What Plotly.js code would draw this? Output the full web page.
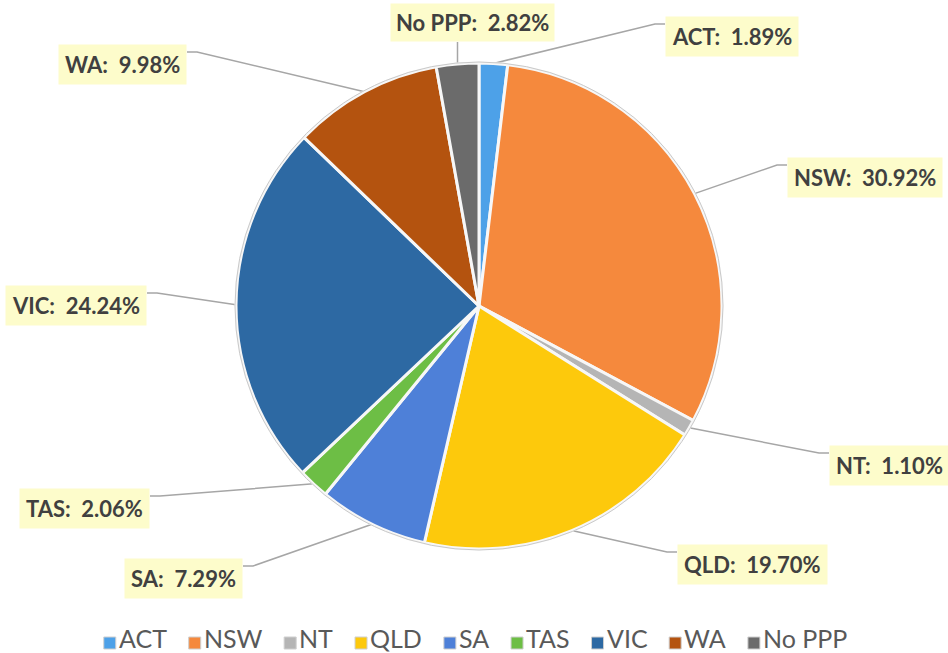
<!DOCTYPE html>
<html>
<head>
<meta charset="utf-8">
<script src="https://cdn.plot.ly/plotly-3.0.1.min.js"></script>
<style>html,body{margin:0;padding:0;background:#fff;}#chart{width:948px;height:653px;}</style>
</head>
<body>
<div id="chart"></div>
<script>
// ---- data ----
const categories = ["ACT", "NSW", "NT", "QLD", "SA", "TAS", "VIC", "WA", "No PPP"];
const shares = [1.89, 30.92, 1.10, 19.70, 7.29, 2.06, 24.24, 9.98, 2.82];
const sliceColors = ["#4DA1E8", "#F5893D", "#B5B5B5", "#FDC90C", "#4E80D8", "#6DBE45", "#2D69A3", "#B4530F", "#6B6B6B"];

// ---- layout constants (pixels) ----
const W = 948, H = 653;
const CX = 479, CY = 306, R = 243;
// label placement: side, anchor x (box edge or centre), centre y
const labelPos = {
  "ACT":    {side: "right", x: 665, y: 36},
  "NSW":    {side: "right", x: 787, y: 177},
  "NT":     {side: "right", x: 829, y: 465},
  "QLD":    {side: "right", x: 677, y: 564},
  "SA":     {side: "left",  x: 243, y: 578},
  "TAS":    {side: "left",  x: 150, y: 508},
  "VIC":    {side: "left",  x: 147, y: 305},
  "WA":     {side: "left",  x: 187, y: 64},
  "No PPP": {side: "top",   x: 472, y: 25}
};
const labelFont = {family: "Lato", size: 22, color: "#404040", weight: 700};
const legendFont = {family: "Lato", size: 25, color: "#595959"};

const px = x => x / W;
const py = y => 1 - y / H;

const total = shares.reduce((a, b) => a + b, 0);
const annotations = [];
const shapes = [];

// outer rim
shapes.push({type: "circle", xref: "paper", yref: "paper",
  x0: px(CX - R - 1), x1: px(CX + R + 1), y0: py(CY + R + 1), y1: py(CY - R - 1),
  line: {color: "#c9c9c9", width: 1}, layer: "above"});

let cum = 0;
categories.forEach((cat, i) => {
  const v = shares[i];
  const mid = (cum + v / 2) / total * 2 * Math.PI;
  cum += v;
  const sx = CX + R * Math.sin(mid);
  const sy = CY - R * Math.cos(mid);
  const lp = labelPos[cat];
  const txt = cat + ":\u00a0 " + v.toFixed(2) + "%";
  let path;
  if (lp.side === "top") {
    const by = lp.y + 17;
    path = `M ${px(sx)} ${py(sy)} L ${px(sx)} ${py(by)}`;
    annotations.push({xref: "paper", yref: "paper", x: px(lp.x), y: py(by), xanchor: "center", yanchor: "bottom",
      text: txt, showarrow: false, font: labelFont, bgcolor: "#FDFCCB", borderpad: 5});
  } else {
    const ay = lp.y - 12;
    const ex = lp.side === "right" ? lp.x - 10 : lp.x + 10;
    path = `M ${px(sx)} ${py(sy)} L ${px(ex)} ${py(ay)} L ${px(lp.x)} ${py(ay)}`;
    annotations.push({xref: "paper", yref: "paper", x: px(lp.x), y: py(lp.y),
      xanchor: lp.side === "right" ? "left" : "right", yanchor: "middle",
      text: txt, showarrow: false, font: labelFont, bgcolor: "#FDFCCB", borderpad: 6});
  }
  shapes.push({type: "path", xref: "paper", yref: "paper", path: path,
    line: {color: "#a6a6a6", width: 1.5}, layer: "below"});
});

// custom legend
const ctx = document.createElement("canvas").getContext("2d");
ctx.font = legendFont.size + "px Lato";
const symW = 12, symGap = 2, itemGap = 23;
const widths = categories.map(c => ctx.measureText(c).width);
const totalW = widths.reduce((a, w) => a + symW + symGap + w, 0) + itemGap * (categories.length - 1);
let lx = 475 - totalW / 2;
const legY = 638;
categories.forEach((c, i) => {
  shapes.push({type: "rect", xref: "paper", yref: "paper",
    x0: px(lx), x1: px(lx + symW), y0: py(legY + 11), y1: py(legY - 1),
    fillcolor: sliceColors[i], line: {color: "#cfcfcf", width: 1}});
  annotations.push({xref: "paper", yref: "paper", x: px(lx + symW + symGap - 3), y: py(legY),
    xanchor: "left", yanchor: "middle", text: c, showarrow: false, font: legendFont, borderpad: 3});
  lx += symW + symGap + widths[i] + itemGap;
});

const trace = {
  type: "pie",
  labels: categories,
  values: shares,
  sort: false,
  direction: "clockwise",
  rotation: 0,
  textinfo: "none",
  hoverinfo: "label+percent",
  marker: {colors: sliceColors, line: {color: "#f7f7f7", width: 3}},
  domain: {x: [px(CX - R), px(CX + R)], y: [py(CY + R), py(CY - R)]},
  showlegend: false
};

Plotly.newPlot("chart", [trace], {
  width: W, height: H,
  margin: {l: 0, r: 0, t: 0, b: 0},
  paper_bgcolor: "#ffffff",
  showlegend: false,
  annotations: annotations,
  shapes: shapes
}, {displayModeBar: false, staticPlot: true});
</script>
</body>
</html>
